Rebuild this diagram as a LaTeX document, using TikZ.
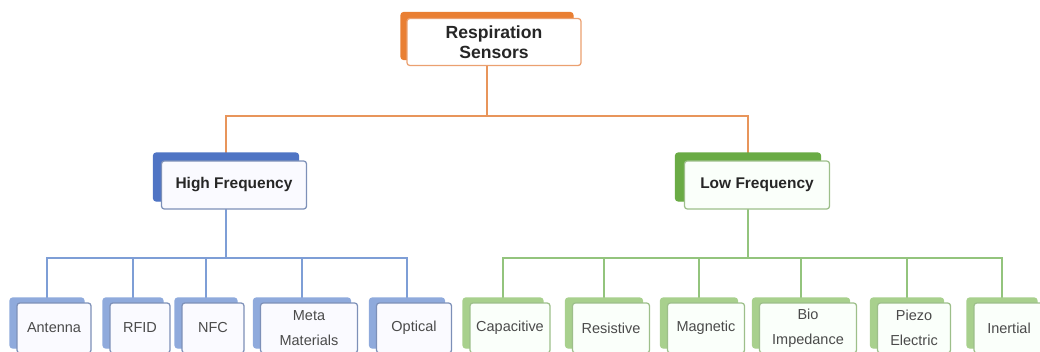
\documentclass[tikz,border=0pt]{standalone}
\usepackage{fontspec}
\setmainfont{Liberation Sans}
\usepackage{xcolor}
\usetikzlibrary{positioning,backgrounds}

\definecolor{orBack}{HTML}{E97F33}
\definecolor{orEdge}{HTML}{EBA070}
\definecolor{orLine}{HTML}{E8955B}
\definecolor{hiBack}{HTML}{4F74C4}
\definecolor{hiEdge}{HTML}{7D90B8}
\definecolor{hiLeaf}{HTML}{8FAADC}
\definecolor{hiLine}{HTML}{7E9ED6}
\definecolor{loBack}{HTML}{6AAB45}
\definecolor{loEdge}{HTML}{9DBF8A}
\definecolor{loLeaf}{HTML}{A8D08D}
\definecolor{loLine}{HTML}{93C47D}
\definecolor{txtDark}{HTML}{262626}
\definecolor{txtLeaf}{HTML}{4A4A4A}

\begin{document}
\begin{tikzpicture}[
  x=0.025cm,
  y=-0.025cm,
  box/.style={rounded corners=2pt, line width=0.9pt, inner sep=0pt, align=center},
  rootBack/.style={box, fill=orBack, draw=orBack, minimum width=172*0.025cm, minimum height=47*0.025cm},
  rootFront/.style={box, fill=white, draw=orEdge, minimum width=174*0.025cm, minimum height=47*0.025cm,
    font=\fontsize{12.5}{14.5}\selectfont\bfseries, text=txtDark},
  midBack/.style={box, fill=#1, draw=#1, minimum width=145*0.025cm, minimum height=48*0.025cm},
  midFront/.style={box, fill=#1, minimum width=145*0.025cm, minimum height=48*0.025cm,
    font=\fontsize{11}{13}\selectfont\bfseries, text=txtDark},
  leafBack/.style={box, fill=#1, draw=#1, minimum height=50*0.025cm},
  leafFront/.style={box, fill=#1, minimum height=50*0.025cm,
    font=\fontsize{10.3}{18}\selectfont, text=txtLeaf},
  orWire/.style={draw=orLine, line width=1pt},
  hiWire/.style={draw=hiLine, line width=1pt},
  loWire/.style={draw=loLine, line width=1pt}
]
\useasboundingbox (0,0) rectangle (1040,351);
\clip (0,0) rectangle (1040,351);

\coordinate (topBus) at (0,116);
\coordinate (hiBus) at (0,258);
\coordinate (loBus) at (0,258);

% root
\node[rootBack] (rootback) at (487,36) {};
\node[rootFront] (root) at (494,42) {Respiration\\Sensors};

% second level
\node[midBack=hiBack] (hiback) at (226,177) {};
\node[midFront=blue!2, draw=hiEdge] (hi) at (234,185) {High Frequency};
\node[midBack=loBack] (loback) at (748,177) {};
\node[midFront=green!2, draw=loEdge] (lo) at (757,185) {Low Frequency};

\begin{pgfonlayer}{background}
  \draw[orWire] (rootback.center) -- (rootback.center |- topBus) -| (hiback.center);
  \draw[orWire] (rootback.center) -- (rootback.center |- topBus) -| (loback.center);
\end{pgfonlayer}

% leaves
\foreach \x/\w/\lab/\name in {47/74/Antenna/ant, 133/60/RFID/rfid, 206/62/NFC/nfc,
    302/97/{Meta\\Materials}/meta, 407/75/Optical/opt} {
  \node[leafBack=hiLeaf, minimum width=\w*0.025cm] (\name back) at (\x,323) {};
  \node[leafFront=blue!2, draw=hiEdge, minimum width=\w*0.025cm] (\name) at (\x+7,328) {\lab};
  \begin{pgfonlayer}{background}
    \draw[hiWire] (hiback.center) -- (hiback.center |- hiBus) -| (\name back.center);
  \end{pgfonlayer}
}
\foreach \x/\w/\lab/\name in {503/80/Capacitive/cap, 604/77/Resistive/res, 699/77/Magnetic/mag,
    801/97/{Bio\\Impedance}/bio, 907/73/{Piezo\\Electric}/pie, 1002/70/Inertial/ine} {
  \node[leafBack=loLeaf, minimum width=\w*0.025cm] (\name back) at (\x,323) {};
  \node[leafFront=green!2, draw=loEdge, minimum width=\w*0.025cm] (\name) at (\x+7,328) {\lab};
  \begin{pgfonlayer}{background}
    \draw[loWire] (loback.center) -- (loback.center |- loBus) -| (\name back.center);
  \end{pgfonlayer}
}
\end{tikzpicture}
\end{document}
